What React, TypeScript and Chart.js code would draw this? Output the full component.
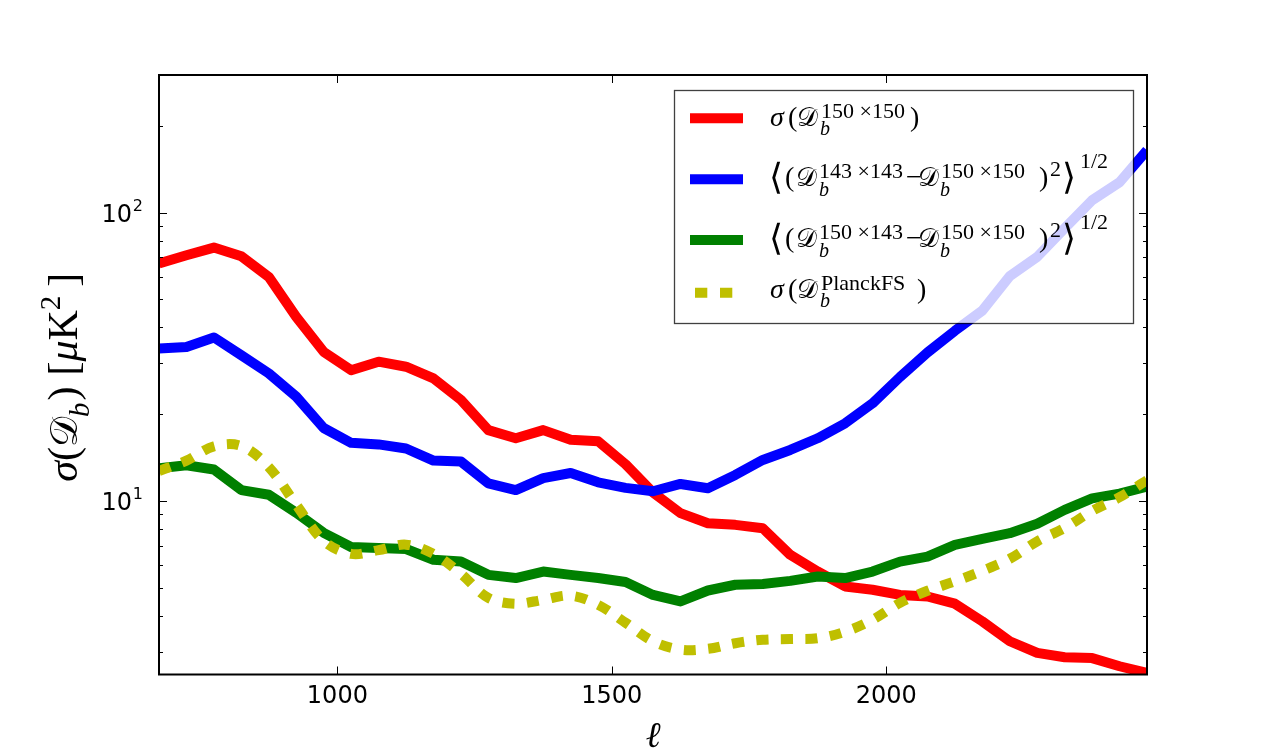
import React, { useEffect, useRef } from 'react';
import { Chart, registerables } from 'chart.js';

Chart.register(...registerables);

// Multipole bins
const ELL = [
  675, 725, 775, 825, 875, 925, 975, 1025, 1075, 1125, 1175, 1225, 1275,
  1325, 1375, 1425, 1475, 1525, 1575, 1625, 1675, 1725, 1775, 1825, 1875,
  1925, 1975, 2025, 2075, 2125, 2175, 2225, 2275, 2325, 2375, 2425, 2475,
];

// sigma(D_b^{150x150})
const SIGMA_150 = [
  66.6, 71.1, 75.6, 70.6, 59.8, 43.5, 32.9, 28.4, 30.4, 29.2, 26.6, 22.4, 17.6,
  16.5, 17.6, 16.3, 16.1, 13.4, 10.7, 9.07, 8.37, 8.26, 8.04, 6.5, 5.69,
  5.05, 4.92, 4.72, 4.66, 4.4, 3.82, 3.26, 2.97, 2.87, 2.85, 2.67, 2.53,
];

// rms of D_b^{143x143} - D_b^{150x150}
const RMS_143 = [
  33.8, 34.2, 36.9, 32.0, 27.7, 23.0, 17.9, 15.9, 15.7, 15.2, 13.8, 13.7, 11.5,
  10.9, 12.0, 12.5, 11.6, 11.1, 10.8, 11.45, 11.06, 12.3, 13.87, 15.02, 16.49,
  18.58, 21.8, 26.9, 32.7, 38.9, 45.7, 60.2, 70.2, 88.2, 110.3, 127.4, 164.4,
];

// rms of D_b^{150x143} - D_b^{150x150}
const RMS_150x143 = [
  12.98, 13.3, 12.85, 10.9, 10.5, 9.1, 7.75, 6.92, 6.86, 6.81, 6.25, 6.16, 5.54,
  5.4, 5.69, 5.54, 5.4, 5.23, 4.72, 4.48, 4.89, 5.12, 5.15, 5.28, 5.47,
  5.4, 5.69, 6.16, 6.41, 7.04, 7.38, 7.73, 8.33, 9.31, 10.2, 10.6, 11.2,
];

// sigma(D_b^{PlanckFS})
const PLANCK_FS = [
  12.7, 13.8, 15.45, 15.5, 13.1, 9.7, 7.27, 6.55, 6.75, 7.05, 6.55, 5.59, 4.61,
  4.4, 4.54, 4.69, 4.36, 3.78, 3.26, 3.05, 3.07, 3.21, 3.3, 3.32, 3.34,
  3.52, 3.87, 4.43, 4.88, 5.26, 5.72, 6.3, 7.24, 8.06, 9.23, 10.3, 11.8,
];

const X_TICKS = [1000, 1500, 2000];
const X_TICK_LABELS = ['1000', '1500', '2000'];
const Y_MAJOR = [10, 100];
const Y_MAJOR_EXP = ['1', '2'];
const Y_MINOR = [3, 4, 5, 6, 7, 8, 9, 20, 30, 40, 50, 60, 70, 80, 90, 200];

const RED = '#ff0000';
const BLUE = '#0000ff';
const GREEN = '#008000';
const OLIVE = '#bfbf00';

const SERIF = '"Liberation Serif", "DejaVu Serif", serif';
const SANS = '"DejaVu Sans", "Liberation Sans", sans-serif';
const rm = (s: number) => `${s}px ${SERIF}`;
const it = (s: number) => `italic ${s}px ${SERIF}`;
const cal = (s: number) => `${s}px ${SERIF}`;
const brk = (s: number) => `200 ${s}px "DejaVu Sans", sans-serif`;

const SCRIPT_D = '\u{1D49F}';

type Piece = { s: string; font: string; x: number; dy?: number };

function drawPieces(ctx: CanvasRenderingContext2D, x0: number, base: number, pieces: Piece[]) {
  for (const p of pieces) {
    ctx.font = p.font;
    ctx.fillText(p.s, x0 + p.x, base + (p.dy ?? 0));
  }
}

type FlowPiece = { s: string; font: string; dy?: number; gap?: number };

function drawFlow(ctx: CanvasRenderingContext2D, x0: number, base: number, pieces: FlowPiece[]) {
  let x = x0;
  for (const p of pieces) {
    if (p.gap) x += p.gap;
    ctx.font = p.font;
    ctx.fillText(p.s, x, base + (p.dy ?? 0));
    x += ctx.measureText(p.s).width;
  }
}

const SUP = 22;
const SUB = 20;
const DSZ = 26;

const sigmaRow = (sup: string, close: number): Piece[] => [
  { s: '\u03C3', font: it(28), x: 0 },
  { s: '(', font: rm(28), x: 18 },
  { s: SCRIPT_D, font: cal(DSZ), x: 27 },
  { s: 'b', font: it(SUB), x: 50, dy: 9 },
  { s: sup, font: rm(SUP), x: 51, dy: -8 },
  { s: ')', font: rm(28), x: close },
];

const rmsRow = (supA: string): Piece[] => [
  { s: '\u27E8', font: brk(36), x: -1, dy: 3 },
  { s: '(', font: rm(28), x: 15 },
  { s: SCRIPT_D, font: cal(DSZ), x: 26 },
  { s: 'b', font: it(SUB), x: 49, dy: 10 },
  { s: supA, font: rm(SUP), x: 49, dy: -8 },
  { s: '\u2212', font: rm(28), x: 136 },
  { s: SCRIPT_D, font: cal(DSZ), x: 148 },
  { s: 'b', font: it(SUB), x: 170, dy: 10 },
  { s: '150 \u00D7150', font: rm(SUP), x: 171, dy: -8 },
  { s: ')', font: rm(28), x: 269 },
  { s: '2', font: rm(SUP), x: 280, dy: -10 },
  { s: '\u27E9', font: brk(36), x: 292, dy: 3 },
  { s: '1/2', font: rm(SUP), x: 310, dy: -18 },
];

const LEGEND_ROWS = [
  { color: RED, dashed: false, sampleY: 28.3, base: 36, pieces: sigmaRow('150 \u00D7150', 140) },
  { color: BLUE, dashed: false, sampleY: 89.3, base: 96, pieces: rmsRow('143 \u00D7143') },
  { color: GREEN, dashed: false, sampleY: 150, base: 156.7, pieces: rmsRow('150 \u00D7143') },
  { color: OLIVE, dashed: true, sampleY: 202.7, base: 208.3, pieces: sigmaRow('PlanckFS', 147) },
];

const decorPlugin = {
  id: 'decor',
  afterDatasetsDraw(chart: any) {
    const { ctx, chartArea: a, scales } = chart;
    const xs = scales.x;
    const ys = scales.y;
    ctx.save();

    // tick marks, pointing inwards on all four sides
    ctx.strokeStyle = '#000';
    ctx.lineWidth = 1;
    const seg = (x1: number, y1: number, x2: number, y2: number) => {
      ctx.beginPath();
      ctx.moveTo(x1, y1);
      ctx.lineTo(x2, y2);
      ctx.stroke();
    };
    for (const v of X_TICKS) {
      const px = Math.round(xs.getPixelForValue(v)) + 0.5;
      seg(px, a.bottom, px, a.bottom - 8);
      seg(px, a.top, px, a.top + 8);
    }
    for (const v of Y_MAJOR) {
      const py = Math.round(ys.getPixelForValue(v)) + 0.5;
      seg(a.left, py, a.left + 8, py);
      seg(a.right, py, a.right - 8, py);
    }
    for (const v of Y_MINOR) {
      const py = Math.round(ys.getPixelForValue(v)) + 0.5;
      seg(a.left, py, a.left + 4, py);
      seg(a.right, py, a.right - 4, py);
    }

    // legend
    const lx = a.right - 473;
    const ly = a.top + 15;
    const lw = 459;
    const lh = 233;
    ctx.fillStyle = 'rgba(255,255,255,0.8)';
    ctx.fillRect(lx, ly, lw, lh);
    ctx.strokeStyle = 'rgba(0,0,0,0.75)';
    ctx.lineWidth = 1.3;
    ctx.strokeRect(lx + 0.5, ly + 0.5, lw, lh);
    ctx.fillStyle = '#000';
    ctx.textAlign = 'left';
    ctx.textBaseline = 'alphabetic';
    for (const row of LEGEND_ROWS) {
      ctx.save();
      ctx.strokeStyle = row.color;
      ctx.lineWidth = 10;
      ctx.lineCap = 'butt';
      if (row.dashed) {
        ctx.setLineDash([12.3, 12.7]);
        seg(lx + 21, ly + row.sampleY, lx + 59, ly + row.sampleY);
      } else {
        seg(lx + 16, ly + row.sampleY, lx + 69, ly + row.sampleY);
      }
      ctx.restore();
      drawPieces(ctx, lx + 96, ly + row.base, row.pieces);
    }

    // axes frame
    ctx.strokeStyle = '#000';
    ctx.lineWidth = 2;
    ctx.strokeRect(a.left, a.top, a.right - a.left, a.bottom - a.top);

    // x tick labels
    ctx.fillStyle = '#000';
    ctx.font = `24px ${SANS}`;
    ctx.textAlign = 'center';
    X_TICKS.forEach((v, i) => {
      ctx.fillText(X_TICK_LABELS[i], xs.getPixelForValue(v), a.bottom + 28.5);
    });

    // y tick labels, 10^n
    Y_MAJOR.forEach((v, i) => {
      const py = ys.getPixelForValue(v);
      ctx.textAlign = 'right';
      ctx.font = `24px ${SANS}`;
      ctx.fillText('10', a.left - 27, py + 9);
      ctx.font = `16px ${SANS}`;
      ctx.fillText(Y_MAJOR_EXP[i], a.left - 16, py - 2);
    });

    // x axis title
    ctx.textAlign = 'center';
    ctx.font = it(36);
    ctx.fillText('\u2113', (a.left + a.right) / 2, 747);

    // y axis title
    ctx.save();
    ctx.translate(77, (a.top + a.bottom) / 2);
    ctx.rotate(-Math.PI / 2);
    ctx.textAlign = 'left';
    drawFlow(ctx, -107, 0, [
      { s: '\u03C3', font: it(42) },
      { s: '(', font: rm(42) },
      { s: SCRIPT_D, font: cal(38) },
      { s: 'b', font: it(29), dy: 12 },
      { s: ')', font: rm(42), gap: 2 },
      { s: '[', font: rm(42), gap: 11 },
      { s: '\u03BC', font: it(42) },
      { s: 'K', font: rm(42) },
      { s: '2', font: rm(29), dy: -17 },
      { s: ']', font: rm(42), gap: 9 },
    ]);
    ctx.restore();

    ctx.restore();
  },
};

export default function App() {
  const ref = useRef<HTMLCanvasElement | null>(null);

  useEffect(() => {
    document.body.style.margin = '0';
    const canvas = ref.current;
    if (!canvas) return;
    const pts = (vals: number[]) => ELL.map((l, i) => ({ x: l, y: vals[i] }));
    const base = {
      borderWidth: 10,
      pointRadius: 0,
      pointHoverRadius: 0,
      fill: false,
      tension: 0,
      borderJoinStyle: 'round' as const,
      borderCapStyle: 'butt' as const,
      clip: 0,
    };
    const chart = new Chart(canvas, {
      type: 'line',
      data: {
        datasets: [
          { ...base, label: 'sigma150', data: pts(SIGMA_150), borderColor: RED, order: 4 },
          { ...base, label: 'rms143', data: pts(RMS_143), borderColor: BLUE, order: 3 },
          { ...base, label: 'rms150x143', data: pts(RMS_150x143), borderColor: GREEN, order: 2 },
          {
            ...base,
            label: 'planckFS',
            data: pts(PLANCK_FS),
            borderColor: OLIVE,
            borderDash: [12, 12.5],
            tension: 0.35,
            order: 1,
          },
        ],
      },
      options: {
        animation: false,
        responsive: false,
        devicePixelRatio: 1,
        layout: { padding: { left: 159, right: 128, top: 75, bottom: 75.5 } },
        scales: {
          x: { type: 'linear', min: 675, max: 2475, display: false },
          y: { type: 'logarithmic', min: 2.5, max: 300, display: false },
        },
        plugins: {
          legend: { display: false },
          tooltip: { enabled: false },
        },
        events: [],
      },
      plugins: [decorPlugin],
    });
    return () => chart.destroy();
  }, []);

  return (
    <div style={{ width: 1275, height: 750, background: '#fff' }}>
      <canvas ref={ref} width={1275} height={750} style={{ display: 'block' }} />
    </div>
  );
}
